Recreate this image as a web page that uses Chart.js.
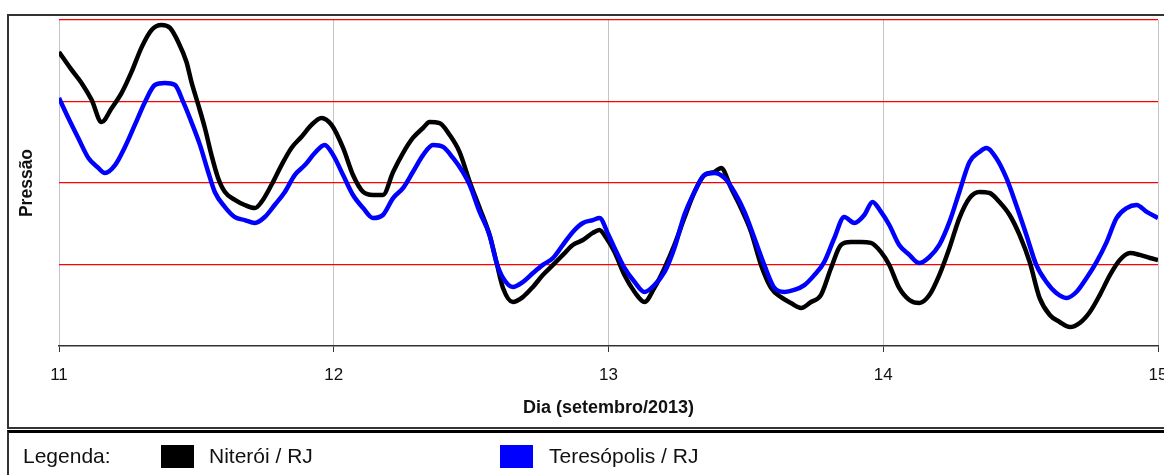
<!DOCTYPE html>
<html lang="pt-BR">
<head>
<meta charset="utf-8">
<title>Pressão - Niterói x Teresópolis</title>
<script src="https://cdn.jsdelivr.net/npm/chart.js@4/dist/chart.umd.min.js"></script>
<style>
  html, body { margin: 0; padding: 0; background: #fff; overflow: hidden; }
  body { width: 1164px; height: 475px; position: relative; font-family: "Liberation Sans", Arial, sans-serif; }
  #grafico { position: absolute; left: 0; top: 0; width: 1164px; height: 430px; }
  .moldura { position: absolute; left: 7px; top: 14px; width: 1170px; height: 411px; border: 2px solid #333; pointer-events: none; }
  .legenda { position: absolute; left: 7px; top: 430px; width: 1170px; height: 60px; border-top: 3px solid #000; border-left: 2px solid #333; }
  .legenda span { position: absolute; top: 11px; font-size: 21px; color: #111; line-height: 24px; }
  .legenda i { position: absolute; top: 12px; width: 33px; height: 23px; }
</style>
</head>
<body>
<div id="grafico"><canvas id="pressaoChart"></canvas></div>
<div class="moldura"></div>
<div class="legenda">
  <span style="left: 14px;">Legenda:</span>
  <i style="left: 152px; background: #000;"></i>
  <span style="left: 200px;">Niterói / RJ</span>
  <i style="left: 491px; background: #0000ff;"></i>
  <span style="left: 540px;">Teresópolis / RJ</span>
</div>

<script>
// dias de setembro/2013 e pressão (hPa)
const diasNiteroi = [
    11.000, 11.046, 11.082, 11.119, 11.155, 11.192, 11.228, 11.264, 11.301, 11.337,
    11.373, 11.404, 11.434, 11.464, 11.482, 11.507, 11.531, 11.555, 11.579, 11.604,
    11.640, 11.676, 11.713, 11.737, 11.773, 11.810, 11.846, 11.882, 11.919, 11.955,
    11.992, 12.034, 12.070, 12.107, 12.143, 12.179, 12.216, 12.252, 12.288, 12.325,
    12.349, 12.385, 12.422, 12.458, 12.495, 12.531, 12.567, 12.592, 12.616, 12.652,
    12.688, 12.725, 12.761, 12.798, 12.834, 12.870, 12.907, 12.943, 12.967, 12.992,
    13.022, 13.058, 13.095, 13.131, 13.167, 13.204, 13.240, 13.276, 13.313, 13.349,
    13.385, 13.410, 13.446, 13.482, 13.519, 13.555, 13.592, 13.628, 13.664, 13.701,
    13.737, 13.773, 13.810, 13.846, 13.882, 13.919, 13.955, 13.992, 14.022, 14.058,
    14.095, 14.131, 14.168, 14.204, 14.241, 14.277, 14.314, 14.350, 14.387, 14.423,
    14.460, 14.496, 14.533, 14.569, 14.606, 14.642, 14.679, 14.715, 14.752, 14.788,
    14.825, 14.861, 14.898, 14.934, 14.971, 15.000
];
const pressaoNiteroi = [
    1022.43, 1021.55, 1020.91, 1020.07, 1018.99, 1019.68, 1020.42, 1021.45, 1022.67, 1023.51,
    1023.75, 1023.61, 1022.92, 1021.94, 1020.96, 1019.83, 1018.70, 1017.37, 1016.25, 1015.56,
    1015.17, 1014.92, 1014.77, 1015.07, 1015.90, 1016.88, 1017.72, 1018.26, 1018.85, 1019.19,
    1018.85, 1017.72, 1016.39, 1015.56, 1015.41, 1015.41, 1016.54, 1017.47, 1018.21, 1018.70,
    1018.99, 1018.94, 1018.36, 1017.52, 1016.05, 1014.77, 1013.45, 1012.12, 1010.85, 1010.16,
    1010.40, 1010.90, 1011.48, 1011.98, 1012.47, 1012.96, 1013.20, 1013.55, 1013.69, 1013.30,
    1012.61, 1011.48, 1010.65, 1010.16, 1010.85, 1011.83, 1012.96, 1014.28, 1015.56, 1016.39,
    1016.54, 1016.74, 1015.75, 1014.77, 1013.60, 1011.98, 1010.85, 1010.40, 1010.11, 1009.87,
    1010.16, 1010.50, 1011.83, 1012.96, 1013.10, 1013.10, 1013.06, 1012.61, 1011.98, 1010.85,
    1010.26, 1010.11, 1010.50, 1011.48, 1012.81, 1014.28, 1015.26, 1015.56, 1015.51, 1015.07,
    1014.43, 1013.45, 1012.12, 1010.36, 1009.52, 1009.18, 1008.93, 1009.13, 1009.67, 1010.50,
    1011.48, 1012.22, 1012.56, 1012.47, 1012.32, 1012.22
];

const diasTeresopolis = [
    11.000, 11.034, 11.070, 11.107, 11.143, 11.167, 11.204, 11.240, 11.276, 11.313,
    11.349, 11.385, 11.422, 11.452, 11.482, 11.513, 11.543, 11.567, 11.604, 11.640,
    11.676, 11.713, 11.749, 11.785, 11.822, 11.858, 11.895, 11.931, 11.967, 11.998,
    12.034, 12.070, 12.107, 12.143, 12.179, 12.216, 12.252, 12.288, 12.325, 12.361,
    12.398, 12.434, 12.470, 12.495, 12.531, 12.567, 12.592, 12.616, 12.652, 12.688,
    12.725, 12.761, 12.798, 12.834, 12.870, 12.907, 12.943, 12.967, 13.000, 13.022,
    13.058, 13.095, 13.131, 13.167, 13.204, 13.240, 13.276, 13.313, 13.349, 13.385,
    13.422, 13.458, 13.495, 13.531, 13.567, 13.604, 13.640, 13.676, 13.713, 13.749,
    13.785, 13.822, 13.858, 13.895, 13.931, 13.961, 13.992, 14.022, 14.058, 14.095,
    14.131, 14.168, 14.204, 14.241, 14.277, 14.314, 14.350, 14.375, 14.411, 14.448,
    14.484, 14.521, 14.557, 14.594, 14.630, 14.667, 14.703, 14.740, 14.776, 14.813,
    14.849, 14.886, 14.922, 14.959, 15.000
];
const pressaoTeresopolis = [
    1020.17, 1019.19, 1018.21, 1017.23, 1016.74, 1016.49, 1016.88, 1017.77, 1018.85, 1019.98,
    1020.81, 1020.91, 1020.81, 1019.98, 1018.99, 1017.87, 1016.54, 1015.56, 1014.82, 1014.33,
    1014.18, 1014.04, 1014.33, 1014.92, 1015.56, 1016.39, 1016.88, 1017.47, 1017.87, 1017.37,
    1016.39, 1015.41, 1014.77, 1014.28, 1014.43, 1015.26, 1015.75, 1016.54, 1017.37, 1017.87,
    1017.77, 1017.23, 1016.54, 1015.90, 1014.58, 1013.45, 1012.12, 1011.34, 1010.90, 1011.14,
    1011.58, 1011.98, 1012.32, 1012.96, 1013.60, 1014.04, 1014.18, 1014.28, 1013.45, 1012.81,
    1011.83, 1011.14, 1010.65, 1010.99, 1011.63, 1012.81, 1014.43, 1015.56, 1016.39, 1016.49,
    1016.25, 1015.56, 1014.58, 1013.30, 1011.98, 1010.85, 1010.65, 1010.75, 1010.99, 1011.48,
    1012.12, 1013.30, 1014.33, 1014.04, 1014.43, 1015.07, 1014.58, 1013.94, 1012.96, 1012.47,
    1012.07, 1012.37, 1012.96, 1014.09, 1015.56, 1017.03, 1017.52, 1017.72, 1017.23, 1016.25,
    1014.92, 1013.45, 1011.98, 1011.14, 1010.60, 1010.36, 1010.65, 1011.34, 1012.12, 1013.10,
    1014.28, 1014.77, 1014.92, 1014.58, 1014.28
];

const diaInicio = 11;
const diaFim = 15;
const pressaoMin = 1008;
const pressaoMax = 1024;
const pressaoPasso = 4;

function montarPontos(dias, valores) {
    return dias.map((d, i) => ({ x: d, y: valores[i] }));
}

document.addEventListener('DOMContentLoaded', function() {
    const fonte = '"Liberation Sans", Arial, sans-serif';
    const ctx = document.getElementById('pressaoChart').getContext('2d');
    new Chart(ctx, {
        type: 'scatter',
        data: {
            datasets: [
                {
                    label: 'Niterói / RJ',
                    data: montarPontos(diasNiteroi, pressaoNiteroi),
                    showLine: true,
                    borderColor: '#000000',
                    borderWidth: 4.5,
                    pointRadius: 0,
                    cubicInterpolationMode: 'monotone',
                    order: 1
                },
                {
                    label: 'Teresópolis / RJ',
                    data: montarPontos(diasTeresopolis, pressaoTeresopolis),
                    showLine: true,
                    borderColor: '#0000ff',
                    borderWidth: 4.5,
                    pointRadius: 0,
                    cubicInterpolationMode: 'monotone',
                    order: 0
                }
            ]
        },
        options: {
            responsive: true,
            maintainAspectRatio: false,
            animation: false,
            layout: { padding: { top: 20, left: 0, right: 6, bottom: 0 } },
            plugins: {
                legend: { display: false },
                tooltip: { enabled: false }
            },
            scales: {
                x: {
                    type: 'linear',
                    min: diaInicio,
                    max: diaFim,
                    ticks: {
                        stepSize: 1,
                        padding: 13,
                        color: '#111',
                        font: { family: fonte, size: 17 }
                    },
                    grid: { color: '#c4c4c4', lineWidth: 1, tickColor: '#333', tickLength: 6 },
                    border: { color: '#333', width: 1.5 },
                    title: {
                        display: true,
                        text: 'Dia (setembro/2013)',
                        color: '#111',
                        padding: { top: 0, bottom: 11 },
                        font: { family: fonte, size: 18, weight: 'bold' }
                    },
                    afterFit: function(scale) {
                        scale.height = 84;
                        scale.paddingLeft = 0;
                        scale.paddingRight = 0;
                    }
                },
                y: {
                    min: pressaoMin,
                    max: pressaoMax,
                    ticks: { stepSize: pressaoPasso, display: false },
                    grid: {
                        color: c => c.tick && c.tick.value === pressaoMin ? 'rgba(0,0,0,0)' : '#ff0000',
                        lineWidth: 1.2,
                        drawTicks: false
                    },
                    border: { display: false },
                    title: {
                        display: true,
                        text: 'Pressão',
                        color: '#111',
                        padding: { top: 17, bottom: 0 },
                        font: { family: fonte, size: 17.5, weight: 'bold' }
                    },
                    afterFit: function(scale) {
                        scale.width = 59;
                    }
                }
            }
        }
    });
});
</script>
</body>
</html>
